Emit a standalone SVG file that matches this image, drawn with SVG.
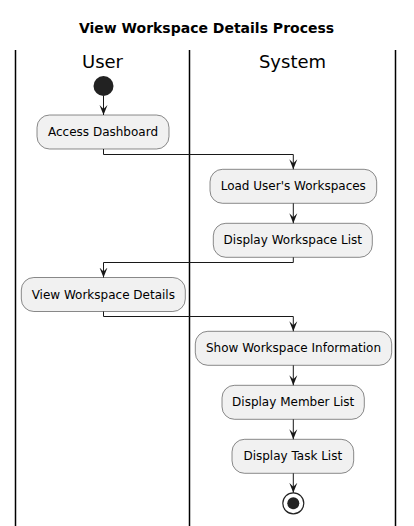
<svg xmlns="http://www.w3.org/2000/svg" width="414" height="526" viewBox="0 0 414 526">
<style>
.t{font-family:"DejaVu Sans","Liberation Sans",sans-serif;fill:#000}
.title{font-size:14px;font-weight:bold}
.lane{font-size:18px}
.box{fill:#F1F1F1;stroke:#181818;stroke-width:0.5}
.bt{font-size:12px}
.sw{stroke:#000;stroke-width:1.5}
.c{fill:none;stroke:#181818;stroke-width:1}
</style>
<defs>
<marker id="ah" viewBox="0 0 10 10" refX="10" refY="5" markerWidth="10" markerHeight="10" markerUnits="userSpaceOnUse" orient="auto">
<path d="M0,1 L10,5 L0,9 L4,5 Z" fill="#181818"/>
</marker>
</defs>
<rect width="414" height="526" fill="#fff"/>
<text class="t title" x="206.5" y="33" text-anchor="middle">View Workspace Details Process</text>
<g id="lanes">
<line class="sw" x1="15.5" y1="50" x2="15.5" y2="526"/>
<line class="sw" x1="189.5" y1="50" x2="189.5" y2="526"/>
<line class="sw" x1="395.5" y1="50" x2="395.5" y2="526"/>
<text class="t lane" x="102.5" y="68" text-anchor="middle">User</text>
<text class="t lane" x="292.5" y="68" text-anchor="middle">System</text>
</g>
<g id="start"><circle cx="103.5" cy="86" r="10" fill="#222"/></g>
<g id="n1"><rect class="box" x="37" y="115" width="132" height="34" rx="12.5"/><text class="t bt" x="103" y="136" text-anchor="middle">Access Dashboard</text></g>
<g id="n2"><rect class="box" x="210" y="169.3" width="166.7" height="34" rx="12.5"/><text class="t bt" x="293.3" y="190.3" text-anchor="middle">Load User's Workspaces</text></g>
<g id="n3"><rect class="box" x="213.3" y="223.3" width="159" height="34" rx="12.5"/><text class="t bt" x="292.8" y="244.3" text-anchor="middle">Display Workspace List</text></g>
<g id="n4"><rect class="box" x="21.3" y="277.5" width="164" height="34" rx="12.5"/><text class="t bt" x="103.3" y="298.5" text-anchor="middle">View Workspace Details</text></g>
<g id="n5"><rect class="box" x="195.3" y="331.3" width="196.4" height="34" rx="12.5"/><text class="t bt" x="293.5" y="352.3" text-anchor="middle">Show Workspace Information</text></g>
<g id="n6"><rect class="box" x="222" y="385.3" width="142.3" height="34" rx="12.5"/><text class="t bt" x="293.2" y="406.3" text-anchor="middle">Display Member List</text></g>
<g id="n7"><rect class="box" x="232" y="439.3" width="121.7" height="34" rx="12.5"/><text class="t bt" x="292.8" y="460.3" text-anchor="middle">Display Task List</text></g>
<g id="end"><circle cx="293.3" cy="503.3" r="10.5" fill="none" stroke="#222" stroke-width="1.2"/><circle cx="293.3" cy="503.3" r="6" fill="#222"/></g>
<g id="connectors">
<path class="c" d="M103.5,96 V115" marker-end="url(#ah)"/>
<path class="c" d="M103.5,149 V154.5 H293.3 V169.3" marker-end="url(#ah)"/>
<path class="c" d="M293.3,203.3 V223.3" marker-end="url(#ah)"/>
<path class="c" d="M293.3,257.3 V262.5 H103.5 V277.5" marker-end="url(#ah)"/>
<path class="c" d="M103.5,311.5 V316.5 H293.3 V331.3" marker-end="url(#ah)"/>
<path class="c" d="M293.3,365.3 V385.3" marker-end="url(#ah)"/>
<path class="c" d="M293.3,419.3 V439.3" marker-end="url(#ah)"/>
<path class="c" d="M293.3,473.3 V492.8" marker-end="url(#ah)"/>
</g>
</svg>
